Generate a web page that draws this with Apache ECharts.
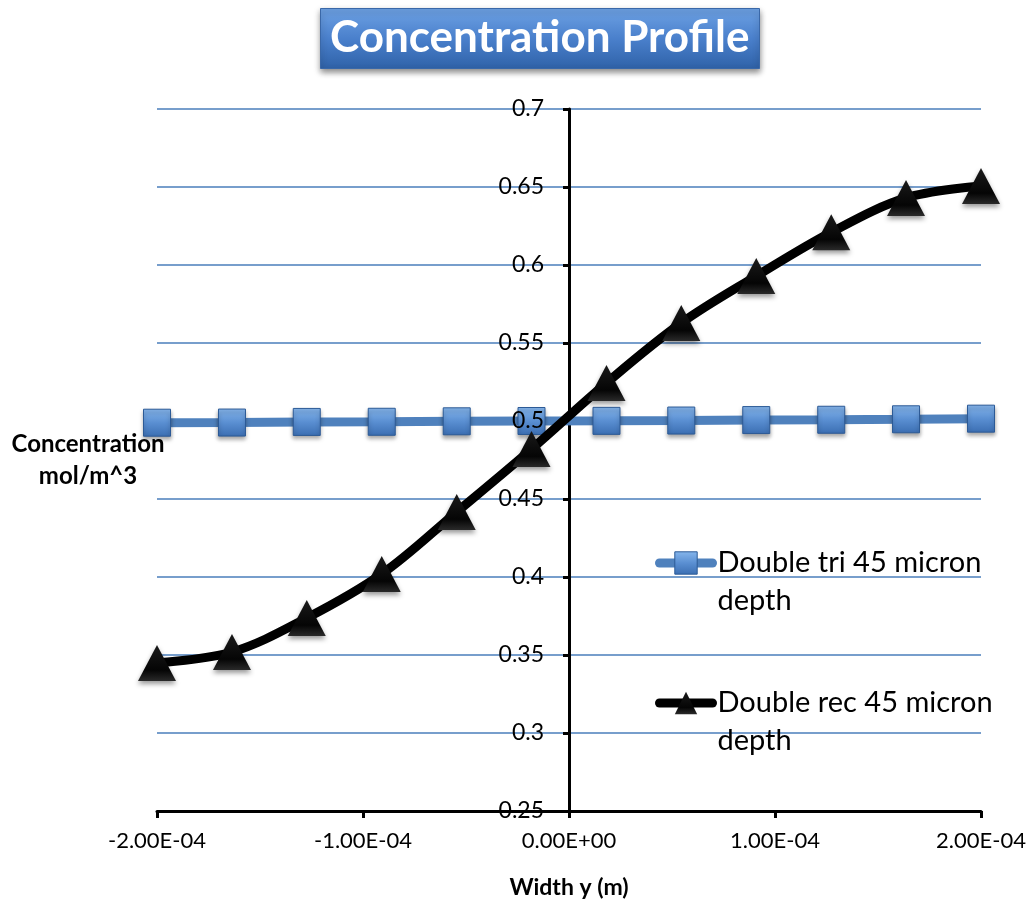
<!DOCTYPE html>
<html>
<head>
<meta charset="utf-8">
<title>Concentration Profile</title>
<script src="https://cdn.jsdelivr.net/npm/echarts@6/dist/echarts.min.js"></script>
<style>
  html, body { margin: 0; padding: 0; background: #fff; }
  #chart { width: 1034px; height: 903px; }
</style>
</head>
<body>
<div id="chart"></div>
<script>
// width positions (m)
const widthY = [-2.0e-4, -1.636e-4, -1.273e-4, -0.909e-4, -0.545e-4, -0.182e-4,
  0.182e-4, 0.545e-4, 0.909e-4, 1.273e-4, 1.636e-4, 2.0e-4];
// concentration, mol/m^3
const doubleTri = [0.4989, 0.4990, 0.4994, 0.4995, 0.4998, 0.5000,
  0.5001, 0.5003, 0.5006, 0.5008, 0.5011, 0.5015];
const doubleRec = [0.3449, 0.3519, 0.3737, 0.4019, 0.4417, 0.4820,
  0.5244, 0.5628, 0.5929, 0.6210, 0.6430, 0.6506];
const seriesNames = ['Double tri 45 micron depth', 'Double rec 45 micron depth'];

const font = 'Lato, "Open Sans", sans-serif';

const chart = echarts.init(document.getElementById('chart'));

const sciLabel = (v) => {
  const [m, e] = Number(v).toExponential(2).split('e');
  const sign = e[0] === '-' ? '-' : '+';
  const digits = e.replace(/[+-]/, '').padStart(2, '0');
  return m + 'E' + sign + digits;
};

const squareFill = {
  type: 'linear', x: 0, y: 0, x2: 0, y2: 1,
  colorStops: [
    { offset: 0, color: '#86b6ec' },
    { offset: 0.5, color: '#5a8fd2' },
    { offset: 1, color: '#3b6eb2' }
  ]
};
const triFill = {
  type: 'linear', x: 0, y: 0, x2: 0, y2: 1,
  colorStops: [
    { offset: 0, color: '#1a1a1a' },
    { offset: 0.7, color: '#050505' },
    { offset: 1, color: '#2a2a2a' }
  ]
};

// grid edges; the y axis is drawn at x = 0 of the width axis
const gridLeft = 157;
const gridRight = 53;
const zeroX = 569;

const yLabelStyle = {
  color: '#000',
  fontFamily: font,
  fontSize: 23,
  margin: 25
};

const option = {
  animation: false,
  title: {
    text: 'Concentration Profile',
    left: 320,
    top: 8,
    padding: [8, 10, 9, 10],
    backgroundColor: {
      type: 'linear', x: 0, y: 0, x2: 0, y2: 1,
      colorStops: [
        { offset: 0, color: '#6ea2e4' },
        { offset: 0.5, color: '#4a80cc' },
        { offset: 1, color: '#2f62a8' }
      ]
    },
    borderColor: '#3a68a8',
    borderWidth: 1,
    shadowBlur: 6,
    shadowOffsetY: 3,
    shadowColor: 'rgba(0,0,0,0.45)',
    textStyle: {
      color: '#fff',
      fontFamily: font,
      fontWeight: 'bold',
      fontSize: 44
    }
  },
  legend: {
    orient: 'vertical',
    left: 650,
    top: 501,
    itemWidth: 53,
    itemHeight: 28,
    itemGap: 26,
    data: [
      {
        name: seriesNames[0],
        itemStyle: { color: squareFill, borderColor: '#2c5a96', borderWidth: 1 },
        lineStyle: { color: '#4f81bd', width: 9, cap: 'round' }
      },
      {
        name: seriesNames[1],
        itemStyle: { color: triFill },
        lineStyle: { color: '#000', width: 9, cap: 'round' }
      }
    ],
    formatter: (name) => '\n' + name.replace(' depth', '\ndepth'),
    textStyle: {
      color: '#000',
      fontFamily: font,
      fontSize: 29,
      lineHeight: 38
    }
  },
  grid: {
    left: gridLeft,
    right: gridRight,
    top: 109,
    bottom: 92,
    containLabel: false,
    outerBoundsMode: 'none'
  },
  xAxis: {
    type: 'value',
    min: -2e-4,
    max: 2e-4,
    interval: 1e-4,
    name: 'Width y (m)',
    nameLocation: 'middle',
    nameGap: 65,
    nameTextStyle: {
      color: '#000',
      fontFamily: font,
      fontWeight: 'bold',
      fontSize: 23
    },
    axisLine: { onZero: false, lineStyle: { color: '#000', width: 3 } },
    axisTick: { show: true, length: 7, lineStyle: { color: '#000', width: 3 } },
    axisLabel: {
      color: '#000',
      fontFamily: font,
      fontSize: 22,
      margin: 19,
      formatter: sciLabel
    },
    splitLine: { show: false }
  },
  yAxis: [
    {
      type: 'value',
      min: 0.25,
      max: 0.7,
      interval: 0.05,
      offset: gridLeft - zeroX,
      name: 'Concentration\nmol/m^3',
      nameLocation: 'middle',
      nameGap: zeroX - 88,
      nameRotate: 0,
      nameTextStyle: {
        color: '#000',
        fontFamily: font,
        fontWeight: 'bold',
        fontSize: 24,
        lineHeight: 32,
        align: 'center'
      },
      axisLine: { onZero: false, lineStyle: { color: '#000', width: 3 } },
      axisTick: { show: true, length: 6, lineStyle: { color: '#000', width: 3 } },
      axisLabel: { show: false },
      splitLine: { lineStyle: { color: '#4a7ebb', width: 1.5 } }
    },
    {
      // same scale, only to draw the tick labels above the markers
      type: 'value',
      position: 'left',
      min: 0.25,
      max: 0.7,
      interval: 0.05,
      offset: gridLeft - zeroX,
      z: 10,
      axisLine: { show: false },
      axisTick: { show: false },
      splitLine: { show: false },
      axisLabel: yLabelStyle
    }
  ],
  series: [
    {
      name: seriesNames[0],
      type: 'line',
      data: widthY.map((x, i) => [x, doubleTri[i]]),
      symbol: 'rect',
      symbolSize: 27,
      lineStyle: { color: '#4f81bd', width: 9 },
      itemStyle: {
        color: squareFill,
        borderColor: '#2c5a96',
        borderWidth: 1,
        shadowBlur: 4,
        shadowOffsetY: 3,
        shadowColor: 'rgba(0,0,0,0.35)'
      },
      z: 3
    },
    {
      name: seriesNames[1],
      type: 'line',
      data: widthY.map((x, i) => [x, doubleRec[i]]),
      smooth: 0.35,
      symbol: 'triangle',
      symbolSize: [38, 36],
      lineStyle: { color: '#000', width: 9 },
      itemStyle: {
        color: triFill,
        shadowBlur: 5,
        shadowOffsetY: 3,
        shadowColor: 'rgba(0,0,0,0.4)'
      },
      z: 4
    }
  ]
};

chart.setOption(option);
window.addEventListener('resize', () => chart.resize());
</script>
</body>
</html>
